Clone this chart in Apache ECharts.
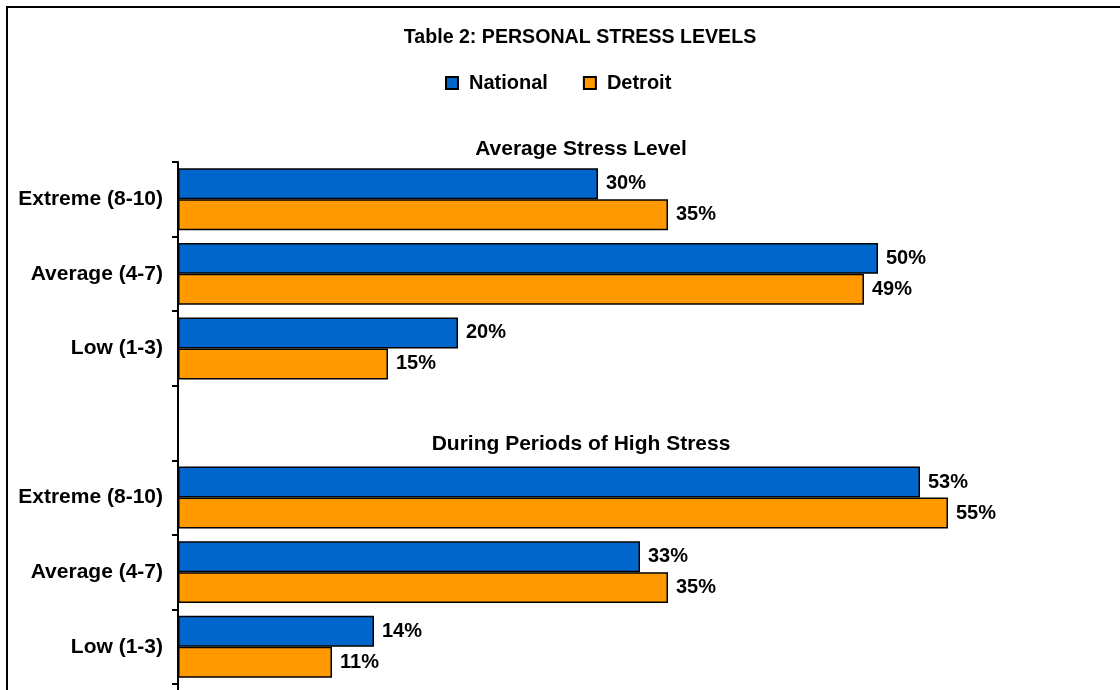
<!DOCTYPE html>
<html>
<head>
<meta charset="utf-8">
<script src="https://cdn.jsdelivr.net/npm/echarts@6/dist/echarts.min.js"></script>
<style>
html,body{margin:0;padding:0;background:#fff;}
#chart{width:1120px;height:690px;}
</style>
</head>
<body>
<div id="chart"></div>
<script>
const categories = ['Extreme (8-10)', 'Average (4-7)', 'Low (1-3)', '', 'Extreme (8-10)', 'Average (4-7)', 'Low (1-3)'];
const nationalValues = [30, 50, 20, null, 53, 33, 14];
const detroitValues = [35, 49, 15, null, 55, 35, 11];
const seriesNames = ['National', 'Detroit'];
const chartTitle = 'Table 2: PERSONAL STRESS LEVELS';
const groupTitles = ['Average Stress Level', 'During Periods of High Stress'];

const FONT = 'Arial, "Liberation Sans", sans-serif';
const chart = echarts.init(document.getElementById('chart'), null, {renderer: 'canvas'});

const labelCfg = {
  show: true,
  position: 'right',
  distance: 8,
  formatter: p => p.value == null ? '' : p.value + '%',
  color: '#000',
  fontFamily: FONT,
  fontWeight: 'bold',
  fontSize: 20
};

chart.setOption({
  backgroundColor: '#fff',
  animation: false,
  graphic: [
    {type: 'rect', shape: {x: 7, y: 7, width: 1200, height: 800}, style: {fill: 'none', stroke: '#000', lineWidth: 2}, silent: true, z: -10},
    {type: 'line', shape: {x1: 178, y1: 683, x2: 178, y2: 692}, style: {stroke: '#000', lineWidth: 2}, silent: true},
    {type: 'text', x: 580, y: 38, style: {text: chartTitle, textAlign: 'center', textVerticalAlign: 'middle', fontFamily: FONT, fontWeight: 'bold', fontSize: 19.6, fill: '#000'}},
    {type: 'text', x: 581, y: 149, style: {text: groupTitles[0], textAlign: 'center', textVerticalAlign: 'middle', fontFamily: FONT, fontWeight: 'bold', fontSize: 21, fill: '#000'}},
    {type: 'text', x: 581, y: 444, style: {text: groupTitles[1], textAlign: 'center', textVerticalAlign: 'middle', fontFamily: FONT, fontWeight: 'bold', fontSize: 21, fill: '#000'}}
  ],
  legend: {
    data: seriesNames,
    left: 445,
    top: 73,
    padding: 0,
    itemWidth: 12,
    itemHeight: 12,
    itemGap: 35,
    icon: 'rect',
    textStyle: {color: '#000', fontFamily: FONT, fontWeight: 'bold', fontSize: 20, padding: [0, 0, 0, 6]}
  },
  grid: {left: 178, top: 162, width: 910, height: 522, containLabel: false},
  xAxis: {
    type: 'value', min: 0, max: 65, show: false
  },
  yAxis: {
    type: 'category',
    data: categories,
    inverse: true,
    axisLine: {show: true, lineStyle: {color: '#000', width: 2}},
    axisTick: {show: true, length: 6, lineStyle: {color: '#000', width: 2}},
    axisLabel: {color: '#000', fontFamily: FONT, fontWeight: 'bold', fontSize: 21, margin: 15},
    splitLine: {show: false}
  },
  series: [
    {
      name: seriesNames[0], type: 'bar', data: nationalValues,
      barGap: '0%', barCategoryGap: '17%',
      itemStyle: {color: '#0066CC', borderColor: '#000', borderWidth: 1.5},
      label: labelCfg
    },
    {
      name: seriesNames[1], type: 'bar', data: detroitValues,
      barGap: '0%', barCategoryGap: '17%',
      itemStyle: {color: '#FF9900', borderColor: '#000', borderWidth: 1.5},
      label: labelCfg
    }
  ]
});
</script>
</body>
</html>
